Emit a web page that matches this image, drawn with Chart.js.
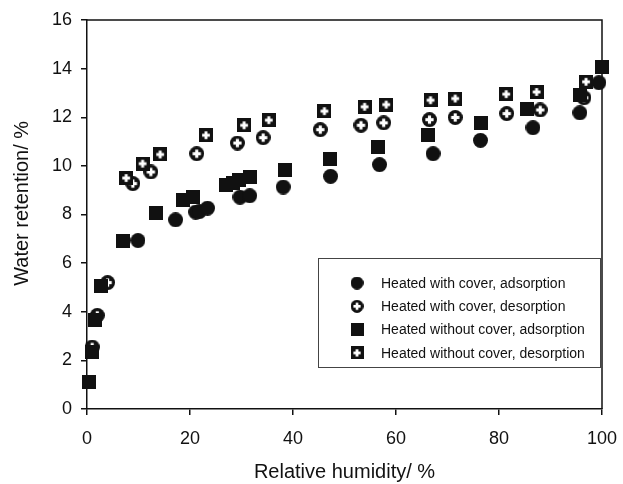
<!DOCTYPE html>
<html>
<head>
<meta charset="utf-8">
<script src="https://cdn.jsdelivr.net/npm/chart.js@4/dist/chart.umd.min.js"></script>
<style>
  html, body { margin: 0; padding: 0; background: #fff; }
  #wrap { width: 623px; height: 484px; }
</style>
</head>
<body>
<div id="wrap"><canvas id="c" width="623" height="484"></canvas></div>
<script>
// ---- Data ----
const seriesLabels = [
  'Heated with cover, adsorption',
  'Heated with cover, desorption',
  'Heated without cover, adsorption',
  'Heated without cover, desorption'
];
const coverAdsRH = [9.9, 17.2, 21.1, 21.8, 23.4, 29.7, 31.6, 38.1, 47.3, 56.8, 67.2, 76.4, 86.6, 95.7, 99.4];
const coverAdsWR = [6.93, 7.78, 8.1, 8.12, 8.26, 8.71, 8.77, 9.13, 9.57, 10.05, 10.5, 11.05, 11.57, 12.18, 13.42];
const coverDesRH = [1.0, 2.0, 4.0, 8.9, 12.4, 21.3, 29.2, 34.2, 45.3, 53.2, 57.6, 66.5, 71.5, 81.5, 88.0, 96.5];
const coverDesWR = [2.55, 3.85, 5.2, 9.27, 9.75, 10.5, 10.94, 11.16, 11.49, 11.67, 11.77, 11.9, 11.99, 12.15, 12.3, 12.8];
const noCoverAdsRH = [0.3, 0.9, 1.6, 2.8, 7.0, 13.4, 18.6, 20.6, 27.0, 28.4, 29.6, 31.6, 38.4, 47.1, 56.5, 66.3, 76.6, 85.5, 95.7, 100];
const noCoverAdsWR = [1.13, 2.36, 3.66, 5.07, 6.93, 8.08, 8.58, 8.74, 9.22, 9.3, 9.4, 9.54, 9.84, 10.3, 10.78, 11.29, 11.78, 12.33, 12.9, 14.05];
const noCoverDesRH = [7.6, 10.8, 14.2, 23.1, 30.5, 35.3, 46.1, 53.9, 58.1, 66.7, 71.5, 81.4, 87.3, 96.9];
const noCoverDesWR = [9.5, 10.09, 10.47, 11.26, 11.67, 11.88, 12.25, 12.43, 12.52, 12.7, 12.77, 12.95, 13.04, 13.46];
const xTicks = [0, 20, 40, 60, 80, 100];
const yTicks = [0, 2, 4, 6, 8, 10, 12, 14, 16];
const xTitle = 'Relative humidity/ %';
const yTitle = '    Water retention/ %';

const FONT = '"Liberation Sans", Arial, Helvetica, sans-serif';

// ---- Marker images ----
function makeMarker(shape, cross, size) {
  const c = document.createElement('canvas');
  c.width = size; c.height = size;
  const g = c.getContext('2d');
  g.fillStyle = '#111';
  if (shape === 'circle') {
    g.beginPath(); g.arc(size / 2, size / 2, size / 2, 0, Math.PI * 2); g.fill();
  } else {
    g.fillRect(0, 0, size, size);
  }
  if (cross) {
    g.fillStyle = '#fff';
    const w = size * 0.21, l = size * 0.55;
    g.fillRect((size - w) / 2, (size - l) / 2, w, l);
    g.fillRect((size - l) / 2, (size - w) / 2, l, w);
  }
  return c;
}
const markers = [
  makeMarker('circle', false, 15),
  makeMarker('circle', true, 15),
  makeMarker('rect', false, 14),
  makeMarker('rect', true, 14)
];

function pts(xs, ys) { return xs.map((x, i) => ({ x: x, y: ys[i] })); }
const seriesData = [
  pts(coverAdsRH, coverAdsWR),
  pts(coverDesRH, coverDesWR),
  pts(noCoverAdsRH, noCoverAdsWR),
  pts(noCoverDesRH, noCoverDesWR)
];
const drawOrder = [4, 3, 2, 1];

const datasets = seriesData.map((d, i) => ({
  label: seriesLabels[i],
  data: d,
  pointStyle: markers[i],
  pointRadius: 7,
  order: drawOrder[i],
  clip: false,
  showLine: false
}));

// ---- Plugins ----
const frame = {
  id: 'frame',
  beforeDatasetsDraw(chart) {
    const { ctx, chartArea: a } = chart;
    ctx.save();
    ctx.strokeStyle = '#111';
    ctx.lineWidth = 1.5;
    ctx.beginPath();
    ctx.moveTo(a.left, a.top);
    ctx.lineTo(a.right, a.top);
    ctx.lineTo(a.right, a.bottom);
    ctx.stroke();
    ctx.restore();
  }
};

const boxLegend = {
  id: 'boxLegend',
  afterDraw(chart) {
    const { ctx } = chart;
    const bx = 318.5, by = 258.5, bw = 282, bh = 109;
    ctx.save();
    ctx.strokeStyle = '#444';
    ctx.lineWidth = 1;
    ctx.fillStyle = '#fff';
    ctx.fillRect(bx, by, bw, bh);
    ctx.strokeRect(bx, by, bw, bh);
    ctx.font = '14px ' + FONT;
    ctx.textBaseline = 'middle';
    ctx.textAlign = 'left';
    ctx.fillStyle = '#111';
    chart.data.datasets.forEach((ds, i) => {
      const y = 283 + i * 23.3;
      const m = ds.pointStyle;
      const s = 13;
      ctx.drawImage(m, 357 - s / 2, y - s / 2, s, s);
      ctx.fillText(ds.label, 381, y + 1);
    });
    ctx.restore();
  }
};

new Chart(document.getElementById('c'), {
  type: 'scatter',
  data: { datasets: datasets },
  options: {
    responsive: false,
    animation: false,
    devicePixelRatio: 1,
    layout: { padding: { top: 20, right: 21, left: 0, bottom: 0 } },
    plugins: { legend: { display: false }, tooltip: { enabled: false } },
    scales: {
      x: {
        type: 'linear',
        min: xTicks[0], max: xTicks[xTicks.length - 1],
        afterFit(s) { s.height = 75; s.paddingLeft = 0; s.paddingRight = 0; },
        afterBuildTicks(s) { s.ticks = xTicks.map(v => ({ value: v })); },
        ticks: { color: '#111', font: { family: FONT, size: 18 }, padding: 13, maxRotation: 0 },
        grid: { drawOnChartArea: false, drawTicks: true, tickLength: 6, color: '#111', lineWidth: 1.5 },
        border: { display: true, color: '#111', width: 1.5 },
        title: { display: true, text: xTitle, color: '#111', font: { family: FONT, size: 20, lineHeight: 1 }, padding: { top: 0, bottom: 2 } }
      },
      y: {
        type: 'linear',
        min: yTicks[0], max: yTicks[yTicks.length - 1],
        afterFit(s) { s.width = 87; s.paddingTop = 0; s.paddingBottom = 0; },
        afterBuildTicks(s) { s.ticks = yTicks.map(v => ({ value: v })); },
        ticks: { color: '#111', font: { family: FONT, size: 18 }, padding: 9 },
        grid: { drawOnChartArea: false, drawTicks: true, tickLength: 6, color: '#111', lineWidth: 1.5 },
        border: { display: true, color: '#111', width: 1.5 },
        title: { display: true, text: yTitle, color: '#111', font: { family: FONT, size: 20, lineHeight: 1.2 }, padding: { top: 10, bottom: 0 } }
      }
    }
  },
  plugins: [frame, boxLegend]
});
</script>
</body>
</html>
